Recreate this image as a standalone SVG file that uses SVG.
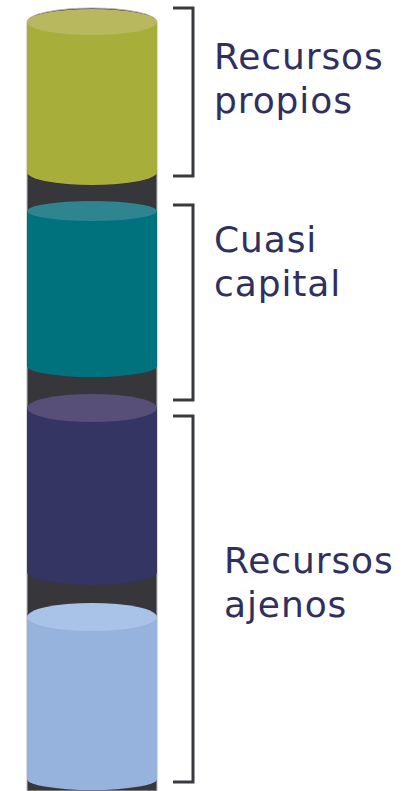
<svg xmlns="http://www.w3.org/2000/svg" width="406" height="791" viewBox="0 0 406 791">
<style>
.lbl{font-family:"DejaVu Sans",Verdana,sans-serif;font-size:36px;letter-spacing:0.9px;fill:#2f3060}
.br{fill:none;stroke:#3a3a3e;stroke-width:3}
</style>
<rect width="406" height="791" fill="#ffffff"/>
<g id="column">
<path d="M27,22 A65,14 0 0 1 157,22 L157,791 L27,791 Z" fill="#37363b" stroke="#b8b8bc" stroke-width="1"/>
</g>
<g id="recursos-propios-cyl">
<path d="M27,22 L27,172 A65,13 0 0 0 157,172 L157,22 Z" fill="#a8ae3a"/>
<ellipse cx="92" cy="22" rx="65" ry="13" fill="#b8b95e"/>
</g>
<g id="cuasi-capital-cyl">
<path d="M27,211 L27,366 A65,11 0 0 0 157,366 L157,211 Z" fill="#00727d"/>
<ellipse cx="92" cy="211" rx="65" ry="10" fill="#2e8590"/>
</g>
<g id="ajenos1-cyl">
<path d="M27,408 L27,572 A65,13 0 0 0 157,572 L157,408 Z" fill="#343562"/>
<ellipse cx="92" cy="408" rx="65" ry="14" fill="#574f78"/>
</g>
<g id="ajenos2-cyl">
<path d="M27,617 L27,779 A65,11 0 0 0 157,779 L157,617 Z" fill="#95b3dd"/>
<ellipse cx="92" cy="617" rx="65" ry="14" fill="#a9c3e8"/>
</g>
<g id="connectors">
<path class="br" d="M173,8 H193 V176 H173"/>
<path class="br" d="M173,205 H193 V400 H173"/>
<path class="br" d="M173,416 H193 V782 H173"/>
</g>
<g id="label-propios">
<text class="lbl" x="214" y="69">Recursos</text>
<text class="lbl" x="214" y="113">propios</text>
</g>
<g id="label-cuasi">
<text class="lbl" x="214" y="252">Cuasi</text>
<text class="lbl" x="214" y="296">capital</text>
</g>
<g id="label-ajenos">
<text class="lbl" x="224" y="573">Recursos</text>
<text class="lbl" x="224" y="617">ajenos</text>
</g>
</svg>
